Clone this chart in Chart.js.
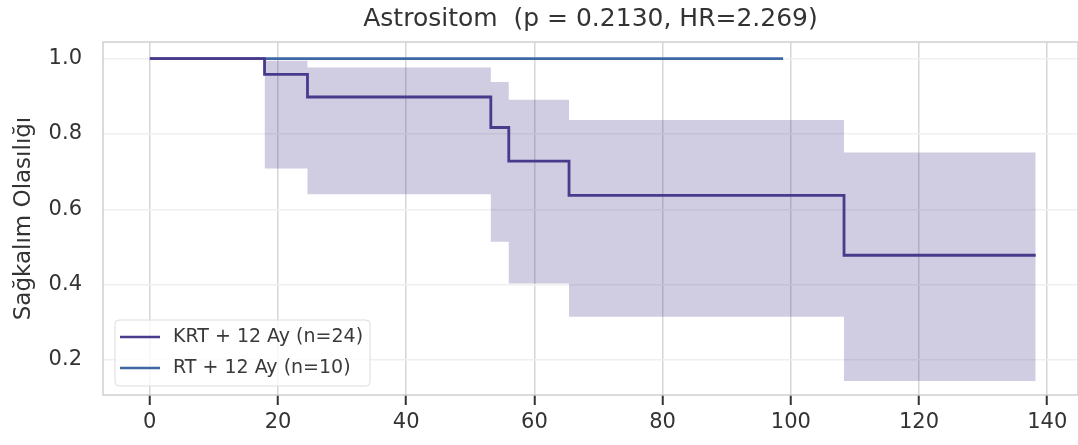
<!doctype html>
<html lang="en">
  <head>
    <meta charset="utf-8">
    <title>Astrositom</title>
    <style>
      * { margin: 0; padding: 0; }
      body { background: #fff; overflow: hidden; }
    </style>
  </head>
  <body>
    <canvas id="myChart" width="1078" height="445"></canvas>
    <script src="https://cdn.jsdelivr.net/npm/chart.js"></script>
    <script>
    // setup - values
    const krtTimes = [0, 17.9, 24.6, 53.2, 56.0, 65.4, 108.3, 138.2];
    const krtSurv  = [1.0, 0.958, 0.898, 0.817, 0.728, 0.637, 0.478, 0.478];
    const ciTimes  = [17.9, 24.6, 53.2, 56.0, 65.4, 108.3, 138.2];
    const ciUpper  = [0.994, 0.976, 0.938, 0.891, 0.837, 0.751, 0.751];
    const ciLower  = [0.708, 0.640, 0.514, 0.403, 0.315, 0.144, 0.144];
    const rtTimes  = [0, 98.8];
    const rtSurv   = [1.0, 1.0];
    const xTicks = [0, 20, 40, 60, 80, 100, 120, 140];
    const yTicks = [0.2, 0.4, 0.6, 0.8, 1.0];

    const purple = '#4a3a8c';
    const blue = '#3d68a3';
    const font = "'DejaVu Sans', sans-serif";
    const pts = (xs, ys) => xs.map((x, i) => ({ x: x, y: ys[i] }));

    const data = {
      datasets: [
        {
          label: 'ci_upper',
          data: pts(ciTimes, ciUpper),
          stepped: 'before',
          borderWidth: 0,
          pointRadius: 0,
          backgroundColor: 'rgba(74, 58, 140, 0.26)',
          fill: '+1'
        },
        {
          label: 'ci_lower',
          data: pts(ciTimes, ciLower),
          stepped: 'before',
          borderWidth: 0,
          pointRadius: 0,
          fill: false
        },
        {
          label: 'KRT + 12 Ay (n=24)',
          data: pts(krtTimes, krtSurv),
          stepped: 'before',
          borderColor: purple,
          borderWidth: 2.8,
          pointRadius: 0,
          fill: false
        },
        {
          label: 'RT + 12 Ay (n=10)',
          data: pts(rtTimes, rtSurv),
          stepped: 'before',
          borderColor: blue,
          borderWidth: 2.8,
          pointRadius: 0,
          fill: false
        }
      ]
    };

    // frame + legend drawn inside the plot area
    const framePlugin = {
      id: 'frame',
      afterDraw(chart) {
        const { ctx, chartArea: a } = chart;
        ctx.save();
        ctx.strokeStyle = '#cfcfcf';
        ctx.lineWidth = 1.5;
        ctx.strokeRect(a.left, a.top, a.right - a.left, a.bottom - a.top);

        // legend
        const items = chart.data.datasets.filter(d => !d.label.startsWith('ci_'));
        const bx = a.left + 12, by = a.bottom - 75, bw = 255, bh = 66;
        ctx.beginPath();
        ctx.roundRect(bx, by, bw, bh, 4);
        ctx.fillStyle = 'rgba(255,255,255,0.8)';
        ctx.fill();
        ctx.strokeStyle = '#dcdcdc';
        ctx.lineWidth = 1;
        ctx.stroke();
        ctx.font = '19px ' + font;
        ctx.textBaseline = 'middle';
        items.forEach((d, i) => {
          const y = by + 17 + i * 31;
          ctx.strokeStyle = d.borderColor;
          ctx.lineWidth = 2.5;
          ctx.beginPath();
          ctx.moveTo(bx + 5, y);
          ctx.lineTo(bx + 45, y);
          ctx.stroke();
          ctx.fillStyle = '#3a3a3a';
          ctx.fillText(d.label, bx + 58, y);
        });
        ctx.restore();
      }
    };

    // config
    const config = {
      type: 'line',
      data,
      options: {
        responsive: false,
        animation: false,
        layout: { padding: { left: 0, right: 0, top: 0, bottom: 0 } },
        plugins: {
          legend: { display: false },
          tooltip: { enabled: false },
          title: {
            display: true,
            fullSize: false,
            text: 'Astrositom  (p = 0.2130, HR=2.269)',
            color: '#333333',
            font: { family: font, size: 25, weight: 'normal' },
            padding: { top: 4, bottom: 8 }
          }
        },
        scales: {
          x: {
            type: 'linear',
            min: -7.3,
            max: 144.8,
            afterBuildTicks: s => { s.ticks = xTicks.map(v => ({ value: v })); },
            afterFit: s => { s.height = 50; },
            grid: {
              color: '#d6d6d6',
              lineWidth: 1.5,
              drawTicks: true,
              tickLength: 10,
              tickColor: '#333333',
              tickWidth: 2
            },
            border: { display: false },
            ticks: {
              color: '#333333',
              padding: 5,
              maxRotation: 0,
              font: { family: font, size: 21 }
            }
          },
          y: {
            min: 0.107,
            max: 1.044,
            afterBuildTicks: s => { s.ticks = yTicks.map(v => ({ value: v })); },
            afterFit: s => { s.width = 103; },
            grid: { color: '#efefef', lineWidth: 1.5, drawTicks: false },
            border: { display: false },
            ticks: {
              color: '#333333',
              padding: 21,
              font: { family: font, size: 21 },
              callback: v => v.toFixed(1)
            },
            title: {
              display: true,
              text: 'Sağkalım Olasılığı',
              color: '#333333',
              font: { family: font, size: 23 },
              padding: { top: 10, bottom: 0 }
            }
          }
        }
      },
      plugins: [framePlugin]
    };

    // render init block
    const myChart = new Chart(document.getElementById('myChart'), config);
    </script>
  </body>
</html>
